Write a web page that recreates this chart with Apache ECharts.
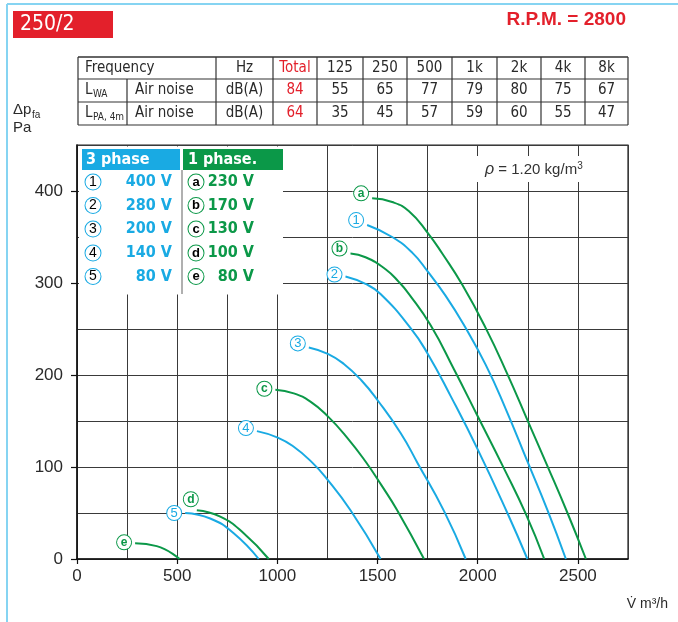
<!DOCTYPE html>
<html><head><meta charset="utf-8">
<script src="https://cdn.jsdelivr.net/npm/echarts@6/dist/echarts.min.js"></script>
<style>html,body{margin:0;padding:0;background:#fff}#c{width:678px;height:622px}</style>
</head><body><div id="c"></div>
<script>
// ---- data ----
const freqHeaders = ['Total', '125', '250', '500', '1k', '2k', '4k', '8k'];
const lwaValues = [84, 55, 65, 77, 79, 80, 75, 67];
const lpaValues = [64, 35, 45, 57, 59, 60, 55, 47];
const xTickValues = [0, 500, 1000, 1500, 2000, 2500];
const yTickValues = [0, 100, 200, 300, 400];
const phase3Marks = ['1', '2', '3', '4', '5'];
const phase3Volts = ['400 V', '280 V', '200 V', '140 V', '80 V'];
const phase1Marks = ['a', 'b', 'c', 'd', 'e'];
const phase1Volts = ['230 V', '170 V', '130 V', '100 V', '80 V'];

const curveA = [[1473,392],[1573,388],[1657,378],[1752,354],[1823,332],[1923,298],[2040,251],[2148,201],[2248,151],[2348,101],[2448,50],[2540,0]];
const curve1 = [[1448,363],[1573,350],[1673,333],[1752,312],[1840,286],[1932,254],[2040,211],[2140,163],[2248,106],[2348,53],[2440,0]];
const curveB = [[1365,332],[1440,328],[1540,315],[1607,301],[1657,288],[1765,254],[1882,206],[1998,156],[2132,98],[2240,49],[2332,0]];
const curve2 = [[1340,307],[1440,299],[1515,288],[1665,251],[1748,224],[1865,177],[1998,120],[2148,50],[2248,0]];
const curve3 = [[1157,230],[1252,223],[1332,212],[1420,194],[1502,172],[1615,137],[1698,105],[1832,52],[1940,0]];
const curveC = [[990,184],[1082,180],[1165,171],[1252,155],[1348,132],[1440,106],[1520,80],[1598,53],[1732,0]];
const curve4 = [[898,139],[1002,132],[1082,122],[1173,105],[1240,89],[1365,53],[1515,0]];
const curve5 = [[540,50],[665,44],[782,28],[907,0]];
const curveD = [[598,53],[715,46],[832,28],[957,0]];
const curveE = [[290,17],[398,14],[512,0]];

// ---- styles ----
const BLUE = '#19aae3', GREEN = '#0b9848', RED = '#e3202b', INK = '#2a2a2a';
const NARROW = '"DejaVu Sans Condensed","Liberation Sans Narrow","Liberation Sans",sans-serif';
const SANS = '"Liberation Sans","DejaVu Sans",sans-serif';

function circ(color, bold, d, fs) {
  return { width: d, height: d, lineHeight: d, borderRadius: d / 2 + 1, borderWidth: 1, borderColor: color,
    color: color, align: 'center', fontSize: fs, fontWeight: bold ? 'bold' : 'normal', fontFamily: SANS, backgroundColor: '#fff' };
}
const RICH = { n: circ(BLUE, false, 14, 13), l: circ(GREEN, true, 14, 12) };
const RICH_LEG = { n: circ(BLUE, false, 15, 14), l: circ(GREEN, true, 15, 13) };

function makeSeries(name, mark, color, pts, isLetter, off) {
  return {
    type: 'line', name: name, smooth: 0.5, symbol: 'circle', symbolSize: 0, showSymbol: true,
    itemStyle: { color: color }, lineStyle: { color: color, width: 2 },
    silent: true, animation: false, z: 3, xAxisIndex: 0, yAxisIndex: 0,
    data: pts.map((p, i) => i === 0 ? {
      value: p,
      label: { show: true, formatter: '{' + (isLetter ? 'l' : 'n') + '|' + mark + '}', position: 'left', distance: 4, offset: off, rich: RICH }
    } : { value: p })
  };
}

const series = [
  makeSeries('230 V', phase1Marks[0], GREEN, curveA, true, [0, -5]),
  makeSeries('400 V', phase3Marks[0], BLUE, curve1, false, [0, -5]),
  makeSeries('170 V', phase1Marks[1], GREEN, curveB, true, [0, -5]),
  makeSeries('280 V', phase3Marks[1], BLUE, curve2, false, [0, -2]),
  makeSeries('200 V', phase3Marks[2], BLUE, curve3, false, [0, -4]),
  makeSeries('130 V', phase1Marks[2], GREEN, curveC, true, [0, -1]),
  makeSeries('140 V', phase3Marks[3], BLUE, curve4, false, [0, -3]),
  makeSeries('80 V', phase3Marks[4], BLUE, curve5, false, [0, 0]),
  makeSeries('100 V', phase1Marks[3], GREEN, curveD, true, [5, -11]),
  makeSeries('80 V (1 phase)', phase1Marks[4], GREEN, curveE, true, [0, -1])
];

// ---- graphic: frame, title, table, legend, annotations ----
const g = [];
g.push({ type: 'line', shape: { x1: 7, y1: 4, x2: 678, y2: 4 }, style: { stroke: '#86d4f2', lineWidth: 2 } });
g.push({ type: 'line', shape: { x1: 7, y1: 4, x2: 7, y2: 622 }, style: { stroke: '#86d4f2', lineWidth: 2 } });
g.push({ type: 'rect', shape: { x: 13, y: 11, width: 100, height: 27 }, style: { fill: RED } });
g.push({ type: 'text', x: 20, y: 25, style: { text: '250/2', fill: '#fff', font: '21px ' + NARROW, textVerticalAlign: 'middle' } });
g.push({ type: 'text', x: 626, y: 20, style: { text: 'R.P.M. = 2800', fill: RED, font: 'bold 19px ' + SANS, textAlign: 'right', textVerticalAlign: 'middle' } });

// table
const colX = [78, 127, 216, 273, 317, 363, 407, 452, 497, 541, 585, 628];
const rowY = [57, 79, 102, 125];
const TL = '#333';
rowY.forEach((y, i) => g.push({ type: 'line', shape: { x1: 78, y1: y, x2: 628, y2: y }, style: { stroke: TL, lineWidth: i === 0 ? 1.6 : 1.2 } }));
colX.forEach((x, i) => g.push({ type: 'line', shape: { x1: x, y1: i === 1 ? 79 : 57, x2: x, y2: 125 }, style: { stroke: TL, lineWidth: 1.2 } }));
const rowC = [68, 90.5, 113.5];
const tf = '15px ' + NARROW;
function tt(x, y, s, align, color, font) {
  g.push({ type: 'text', x: x, y: y, style: { text: s, fill: color || INK, font: font || tf, textAlign: align || 'center', textVerticalAlign: 'middle' } });
}
tt(85, rowC[0], 'Frequency', 'left');
tt(244.5, rowC[0], 'Hz');
tt(85, rowC[1], 'L', 'left'); tt(93, rowC[1] + 4, 'WA', 'left', INK, '10px ' + NARROW);
tt(135, rowC[1], 'Air noise', 'left');
tt(244.5, rowC[1], 'dB(A)');
tt(85, rowC[2], 'L', 'left'); tt(93, rowC[2] + 4, 'PA, 4m', 'left', INK, '10px ' + NARROW);
tt(135, rowC[2], 'Air noise', 'left');
tt(244.5, rowC[2], 'dB(A)');
freqHeaders.forEach((h, i) => {
  const cx = (colX[i + 3] + colX[i + 4]) / 2;
  const c = i === 0 ? RED : INK;
  tt(cx, rowC[0], h, 'center', c);
  tt(cx, rowC[1], String(lwaValues[i]), 'center', c);
  tt(cx, rowC[2], String(lpaValues[i]), 'center', c);
});

// axis names
g.push({ type: 'text', x: 13, y: 110, style: { text: 'Δp', fill: INK, font: '15px ' + SANS, textVerticalAlign: 'middle' } });
g.push({ type: 'text', x: 32, y: 115, style: { text: 'fa', fill: INK, font: '10px ' + SANS, textVerticalAlign: 'middle' } });
g.push({ type: 'text', x: 13, y: 128, style: { text: 'Pa', fill: INK, font: '15px ' + SANS, textVerticalAlign: 'middle' } });
g.push({ type: 'text', x: 668, y: 604, style: { text: 'V\u0307 m³/h', fill: INK, font: '14px ' + SANS, textAlign: 'right', textVerticalAlign: 'middle' } });

// rho box
g.push({ type: 'rect', z: 10, shape: { x: 477, y: 156, width: 115, height: 26 }, style: { fill: '#fff' } });
g.push({ type: 'text', z: 11, x: 485, y: 170, style: { text: '{i|ρ} = 1.20 kg/m{s|3}', fill: '#333', font: '15px ' + SANS, textVerticalAlign: 'middle',
  rich: { i: { fontStyle: 'italic', fontSize: 16, fontFamily: SANS, color: '#333' }, s: { fontSize: 10, padding: [0, 0, 8, 0], fontFamily: SANS, color: '#333' } } } });

// legend
g.push({ type: 'rect', z: 10, shape: { x: 79, y: 146.5, width: 204, height: 148 }, style: { fill: '#fff' } });
g.push({ type: 'rect', z: 11, shape: { x: 82, y: 149, width: 98, height: 21 }, style: { fill: BLUE } });
g.push({ type: 'rect', z: 11, shape: { x: 183, y: 149, width: 100, height: 21 }, style: { fill: GREEN } });
g.push({ type: 'line', z: 11, shape: { x1: 182, y1: 170, x2: 182, y2: 294 }, style: { stroke: '#b0b0b0', lineWidth: 2 } });
const LB = 'bold 16px ' + NARROW;
g.push({ type: 'text', z: 12, x: 86, y: 160, style: { text: '3 phase', fill: '#fff', font: LB, textVerticalAlign: 'middle' } });
g.push({ type: 'text', z: 12, x: 188, y: 160, style: { text: '1 phase.', fill: '#fff', font: LB, textVerticalAlign: 'middle' } });
const legY = [182, 205.5, 229, 253, 276.5];
legY.forEach((y, i) => {
  g.push({ type: 'text', z: 12, x: 93, y: y, style: { text: '{n|' + phase3Marks[i] + '}', rich: RICH_LEG, textAlign: 'center', textVerticalAlign: 'middle' } });
  g.push({ type: 'text', z: 12, x: 172, y: y, style: { text: phase3Volts[i], fill: BLUE, font: LB, textAlign: 'right', textVerticalAlign: 'middle' } });
  g.push({ type: 'text', z: 12, x: 196, y: y, style: { text: '{l|' + phase1Marks[i] + '}', rich: RICH_LEG, textAlign: 'center', textVerticalAlign: 'middle' } });
  g.push({ type: 'text', z: 12, x: 254, y: y, style: { text: phase1Volts[i], fill: GREEN, font: LB, textAlign: 'right', textVerticalAlign: 'middle' } });
});

const GRIDLINE = { show: true, lineStyle: { color: '#3a3a3a', width: 1 } };
const chart = echarts.init(document.getElementById('c'), null, { renderer: 'canvas' });
chart.setOption({
  animation: false,
  backgroundColor: '#fff',
  grid: { left: 77, right: 50, top: 145, bottom: 63, show: true, borderColor: '#222', borderWidth: 1.2, backgroundColor: 'transparent' },
  xAxis: [{
    type: 'value', min: 0, max: 2750, interval: 250, position: 'bottom',
    axisLine: { show: true, onZero: false, lineStyle: { color: '#111', width: 1.5 } },
    axisTick: { show: false }, axisLabel: { show: false },
    splitLine: GRIDLINE
  }, {
    type: 'value', min: 0, max: 2750, position: 'bottom', offset: 0,
    axisLine: { show: false },
    axisTick: { show: true, length: 5, customValues: xTickValues, lineStyle: { color: '#111', width: 1.2 } },
    axisLabel: { customValues: xTickValues, color: INK, fontSize: 17, fontFamily: SANS, margin: 9, formatter: v => String(v) },
    splitLine: { show: false }
  }],
  yAxis: [{
    type: 'value', min: 0, max: 450, interval: 50, position: 'left',
    axisLine: { show: true, onZero: false, lineStyle: { color: '#111', width: 1.5 } },
    axisTick: { show: false }, axisLabel: { show: false },
    splitLine: GRIDLINE
  }, {
    type: 'value', min: 0, max: 450, position: 'left', offset: 0,
    axisLine: { show: false },
    axisTick: { show: true, length: 6, customValues: yTickValues, lineStyle: { color: '#111', width: 1.2 } },
    axisLabel: { customValues: yTickValues, color: INK, fontSize: 17, fontFamily: SANS, margin: 14, formatter: v => String(v) },
    splitLine: { show: false }
  }],
  series: series,
  graphic: { elements: g }
});
</script>
</body></html>
